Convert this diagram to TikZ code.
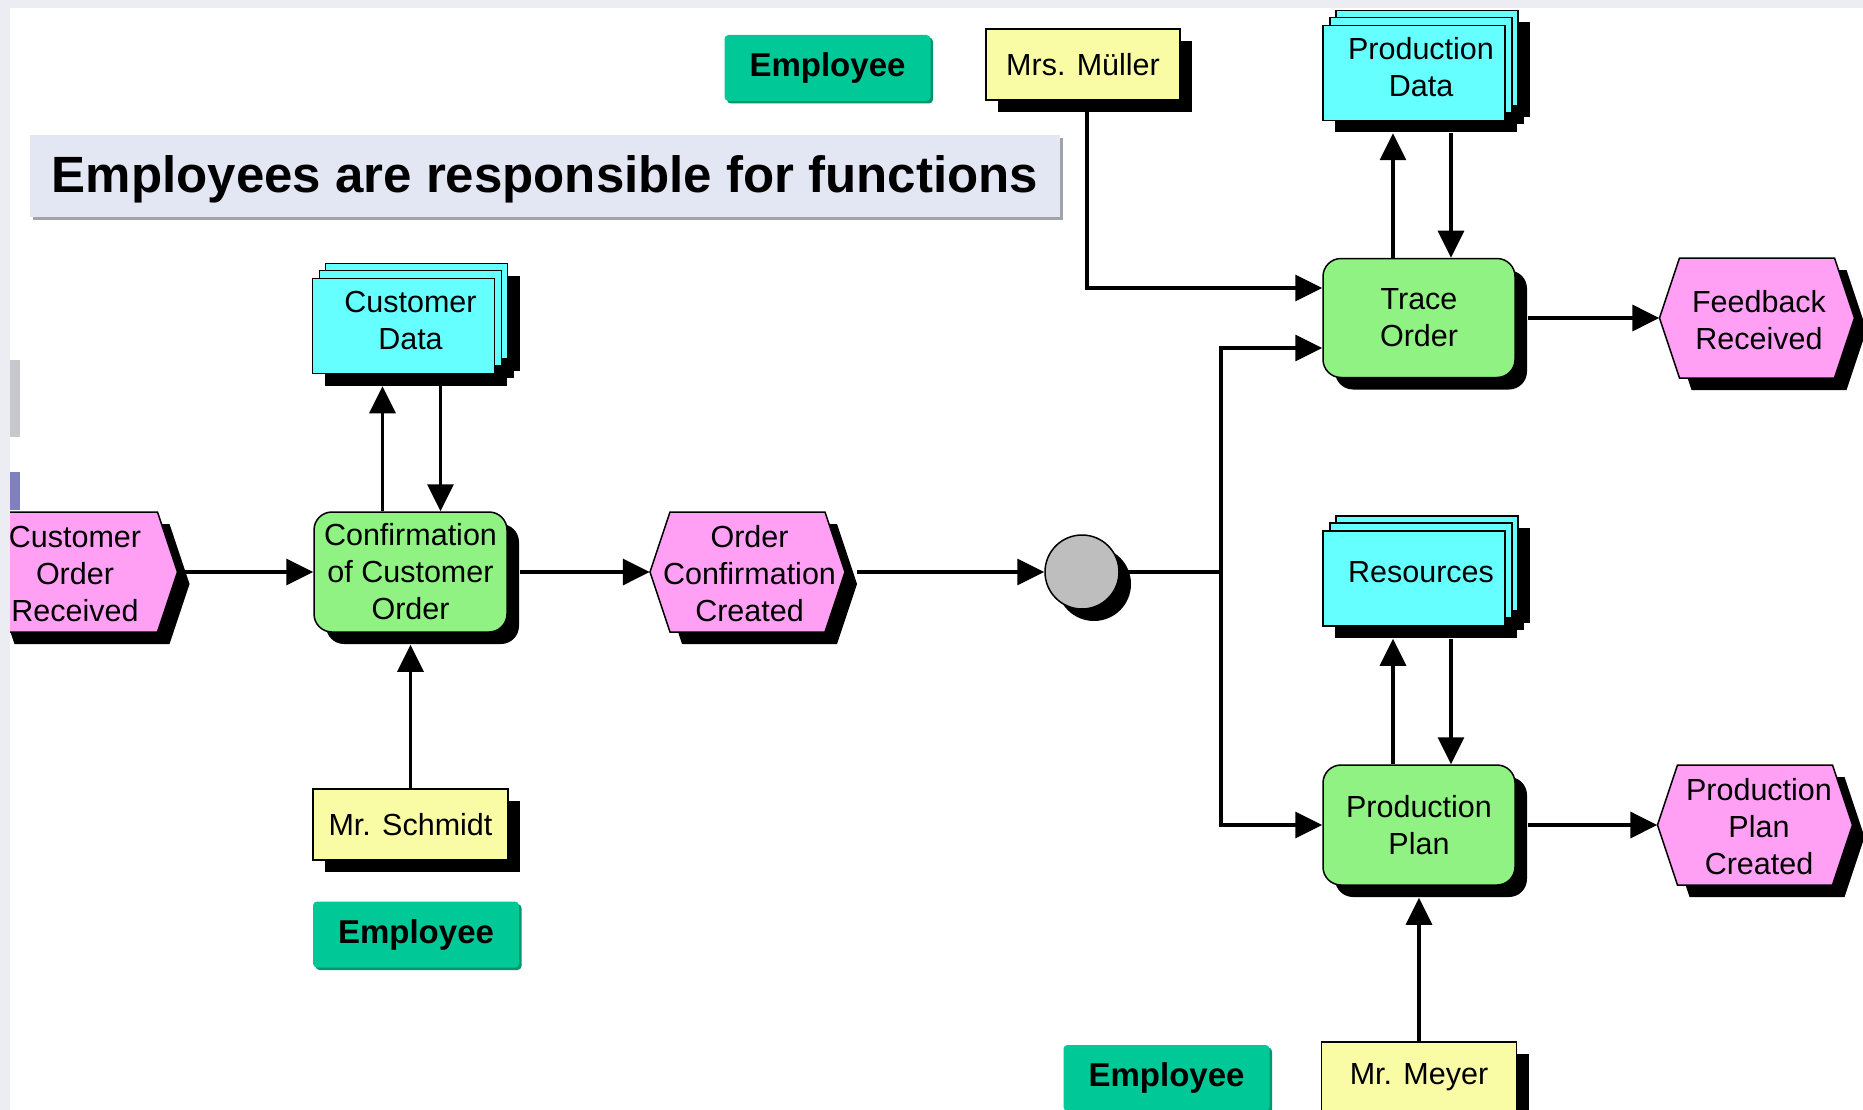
\documentclass[tikz,border=0pt]{standalone}
\usepackage{fontspec}
\setmainfont{Liberation Sans}
\usetikzlibrary{arrows.meta,shadows,calc}

\definecolor{evpink}{RGB}{255,160,245}
\definecolor{fngreen}{RGB}{144,242,131}
\definecolor{infocyan}{RGB}{102,255,255}
\definecolor{orgyellow}{RGB}{249,251,165}
\definecolor{empteal}{RGB}{0,200,150}
\definecolor{empdark}{RGB}{0,150,112}
\definecolor{titlebg}{RGB}{227,230,243}
\definecolor{titleshadow}{RGB}{160,162,172}
\definecolor{stripgray}{RGB}{236,237,242}
\definecolor{rulegray}{RGB}{190,190,190}
\definecolor{tabgray}{RGB}{200,200,204}
\definecolor{tabblue}{RGB}{128,128,192}

\tikzset{
  body/.style={font=\fontsize{30.5}{37}\selectfont, align=center, inner sep=0pt},
  blackshadow/.style={general shadow={fill=black, shadow xshift=12pt, shadow yshift=-12pt}},
  func/.style={body, draw, line width=1.5pt, fill=fngreen, rounded corners=18pt,
    minimum width=193pt, minimum height=120pt, blackshadow},
  person/.style={body, draw, line width=1.5pt, fill=orgyellow,
    minimum width=195pt, minimum height=71pt, blackshadow},
  % stacked information object; the node sits on the text, the front sheet
  % is drawn 7pt left of and 6pt below it
  info/.style={body, line width=1.5pt,
    minimum width=182pt, minimum height=95pt,
    general shadow={fill=black, shadow xshift=18pt, shadow yshift=-3pt},
    general shadow={fill=black, shadow xshift=12pt, shadow yshift=-10pt},
    general shadow={fill=black, shadow xshift=5pt, shadow yshift=-18pt},
    general shadow={fill=infocyan, draw=black, shadow xshift=6pt, shadow yshift=9pt},
    general shadow={fill=infocyan, draw=black, shadow xshift=0pt, shadow yshift=2pt},
    general shadow={fill=infocyan, draw=black, shadow xshift=-7pt, shadow yshift=-6pt}},
  evtext/.style={body, minimum width=195pt, minimum height=120pt},
  role/.style={font=\fontsize{33}{40}\selectfont\bfseries, fill=empteal, rounded corners=4pt,
    minimum width=206pt, minimum height=66pt, inner sep=0pt,
    general shadow={fill=empdark, shadow xshift=2.5pt, shadow yshift=-2.5pt}},
  rulenode/.style={circle, draw, line width=1.5pt, fill=rulegray, minimum size=74pt,
    inner sep=0pt, blackshadow},
  arr/.style={line width=3.5pt, -{Triangle[length=27pt,width=26pt]}},
  wire/.style={line width=3.5pt},
}

% event: hexagon with drop shadow, plus a named text node on top
\newcommand{\evt}[5]{%
  \fill[black, shift={(#2+12,#3+12)}]
    (-97.5,0) -- (-77.5,-60) -- (77.5,-60) -- (97.5,0) -- (77.5,60) -- (-77.5,60) -- cycle;
  \filldraw[fill=evpink, line width=1.5pt, shift={(#2,#3)}]
    (-97.5,0) -- (-77.5,-60) -- (77.5,-60) -- (97.5,0) -- (77.5,60) -- (-77.5,60) -- cycle;
  \node[evtext] (#1) at (#2,#3) {};
  \node[body] (#1-text) at ([xshift=#4pt,yshift=-2pt]#1.center) {#5};}

\begin{document}
\begin{tikzpicture}[x=1pt, y=-1pt]
\useasboundingbox (0,0) rectangle (1863,1110);
\fill[white] (0,0) rectangle (1863,1110);

% title
\node[font=\fontsize{51}{60}\selectfont\bfseries, fill=titlebg, minimum width=1030pt,
  minimum height=82pt, inner sep=0pt, text height=45pt, text depth=11pt,
  general shadow={fill=titleshadow, shadow xshift=3pt, shadow yshift=-3pt}]
  (title) at (545,176) {Employees are responsible for functions};

% events
\evt{e1}{80}{572}{-5}{Customer\\Order\\Received}
\evt{e2}{747.5}{572}{2}{Order\\Confirmation\\Created}
\evt{feedback}{1757}{318}{2}{Feedback\\Received}
\evt{ppc}{1755}{825}{4}{Production\\Plan\\Created}

% functions
\node[func] (f1) at (410.5,572) {Confirmation\\of Customer\\Order};
\node[func, minimum width=192pt, minimum height=119pt] (trace) at (1419,318) {Trace\\Order};
\node[func, minimum width=192pt] (pplan) at (1419,825) {Production\\Plan};

% information objects (positioned by their text)
\node[info] (cdata) at (410.5,320) {Customer\\Data};
\node[info] (pdata) at (1421,67) {Production\\Data};
\node[info] (res) at (1421,572.5) {Resources};

% organisational units
\node[person] (schmidt) at (410.5,824.5) {Mr. Schmidt};
\node[person, minimum width=194pt] (mueller) at (1083,64.5) {Mrs. Müller};
\node[person] (meyer) at (1419,1077.5) {Mr. Meyer};

\node[role] (empA) at (827.5,68) {Employee};
\node[role] (empB) at (416,934.5) {Employee};
\node[role] (empC) at (1166.5,1078) {Employee};

% rule connector
\node[rulenode] (rule) at (1082,572) {};

% connectors
\coordinate (split) at (1221,572);
\coordinate (cdfoot) at ([yshift=-18pt]cdata.south);
\coordinate (pdfoot) at ([yshift=-18pt]pdata.south);
\coordinate (resfoot) at ([yshift=-18pt]res.south);

\draw[arr] (e1.east) -- (f1.west);
\draw[arr] ([xshift=12pt]f1.east) -- (e2.west);
\draw[arr] ([xshift=12pt]e2.east) -- (rule.west);
\draw[wire] (rule.east) -- (split);
\draw[arr] (split) |- ([yshift=-30pt]trace.west);
\draw[arr] (split) |- (pplan.west);
\draw[arr] ([xshift=4pt]mueller.south) |- ([yshift=30pt]trace.west);

\draw[arr] ([xshift=-28pt]f1.north) -- ([xshift=-28pt]f1.north |- cdfoot);
\draw[arr] ([xshift=30pt]f1.north |- cdfoot) -- ([xshift=30pt]f1.north);
\draw[arr] (schmidt.north) -- ([yshift=-12pt]f1.south);

\draw[arr] ([xshift=-26pt]trace.north) -- ([xshift=-26pt]trace.north |- pdfoot);
\draw[arr] ([xshift=32pt]trace.north |- pdfoot) -- ([xshift=32pt]trace.north);
\draw[arr] ([xshift=12pt]trace.east) -- (feedback.west);

\draw[arr] ([xshift=-26pt]pplan.north) -- ([xshift=-26pt]pplan.north |- resfoot);
\draw[arr] ([xshift=32pt]pplan.north |- resfoot) -- ([xshift=32pt]pplan.north);
\draw[arr] ([xshift=12pt]pplan.east) -- (ppc.west);
\draw[arr] (meyer.north) -- ([yshift=-12pt]pplan.south);

% page edges
\fill[stripgray] (0,0) rectangle (10,1110);
\fill[stripgray] (0,0) rectangle (1863,8);
\fill[tabgray] (10,360) rectangle (20,437);
\fill[tabblue] (10,472) rectangle (20,510);
\end{tikzpicture}
\end{document}
